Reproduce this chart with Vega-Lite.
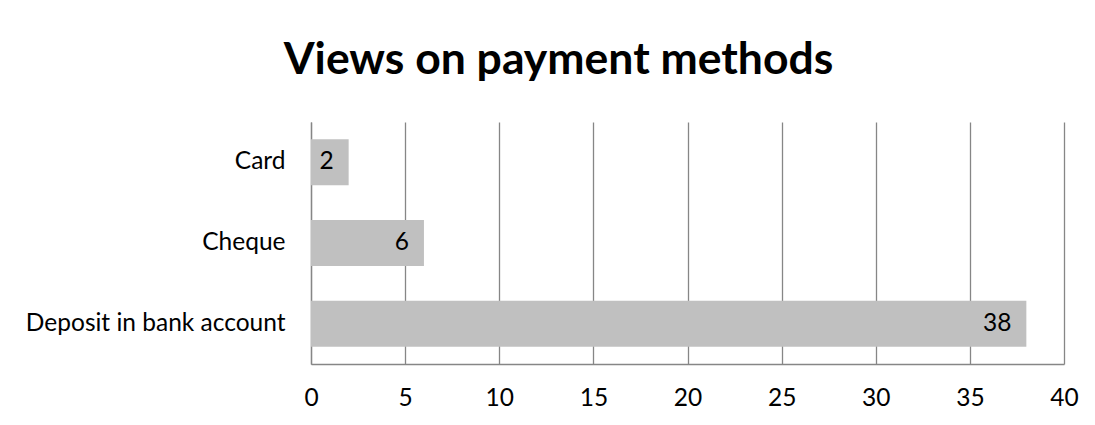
{
  "$schema": "https://vega.github.io/schema/vega-lite/v6.json",
  "autosize": "none",
  "width": 753,
  "height": 242,
  "padding": {"left": 311, "top": 122, "right": 31, "bottom": 61},
  "background": "white",
  "title": {
    "text": "Views on payment methods",
    "font": "Lato",
    "fontSize": 44.5,
    "fontWeight": "bold",
    "color": "#000000",
    "anchor": "middle",
    "baseline": "alphabetic",
    "dx": -129,
    "offset": 4
  },
  "data": {
    "values": [
      {"method": "Card", "count": 2},
      {"method": "Cheque", "count": 6},
      {"method": "Deposit in bank account", "count": 38}
    ]
  },
  "encoding": {
    "y": {
      "field": "method",
      "type": "nominal",
      "sort": ["Card", "Cheque", "Deposit in bank account"],
      "scale": {"paddingInner": 0.43, "paddingOuter": 0.215},
      "axis": {
        "title": null,
        "ticks": false,
        "grid": false,
        "domainColor": "#868686",
        "domainWidth": 1.3,
        "labelFont": "Lato",
        "labelFontSize": 24.5,
        "labelColor": "#000000",
        "labelPadding": 26,
        "labelLimit": 400
      }
    },
    "x": {
      "field": "count",
      "type": "quantitative",
      "scale": {"domain": [0, 40], "nice": false},
      "axis": {
        "title": null,
        "values": [0, 5, 10, 15, 20, 25, 30, 35, 40],
        "ticks": false,
        "grid": true,
        "gridColor": "#868686",
        "gridWidth": 1.3,
        "domainColor": "#868686",
        "domainWidth": 1.3,
        "labelFont": "Lato",
        "labelFontSize": 24.5,
        "labelColor": "#000000",
        "labelPadding": 22,
        "labelFlush": false
      }
    }
  },
  "layer": [
    {"mark": {"type": "bar", "color": "#C0C0C0"}},
    {
      "mark": {
        "type": "text",
        "align": "right",
        "baseline": "middle",
        "dx": -15,
        "font": "Lato",
        "fontSize": 24.5,
        "color": "#000000"
      },
      "encoding": {"text": {"field": "count", "type": "quantitative"}}
    }
  ],
  "config": {"view": {"stroke": null}}
}
